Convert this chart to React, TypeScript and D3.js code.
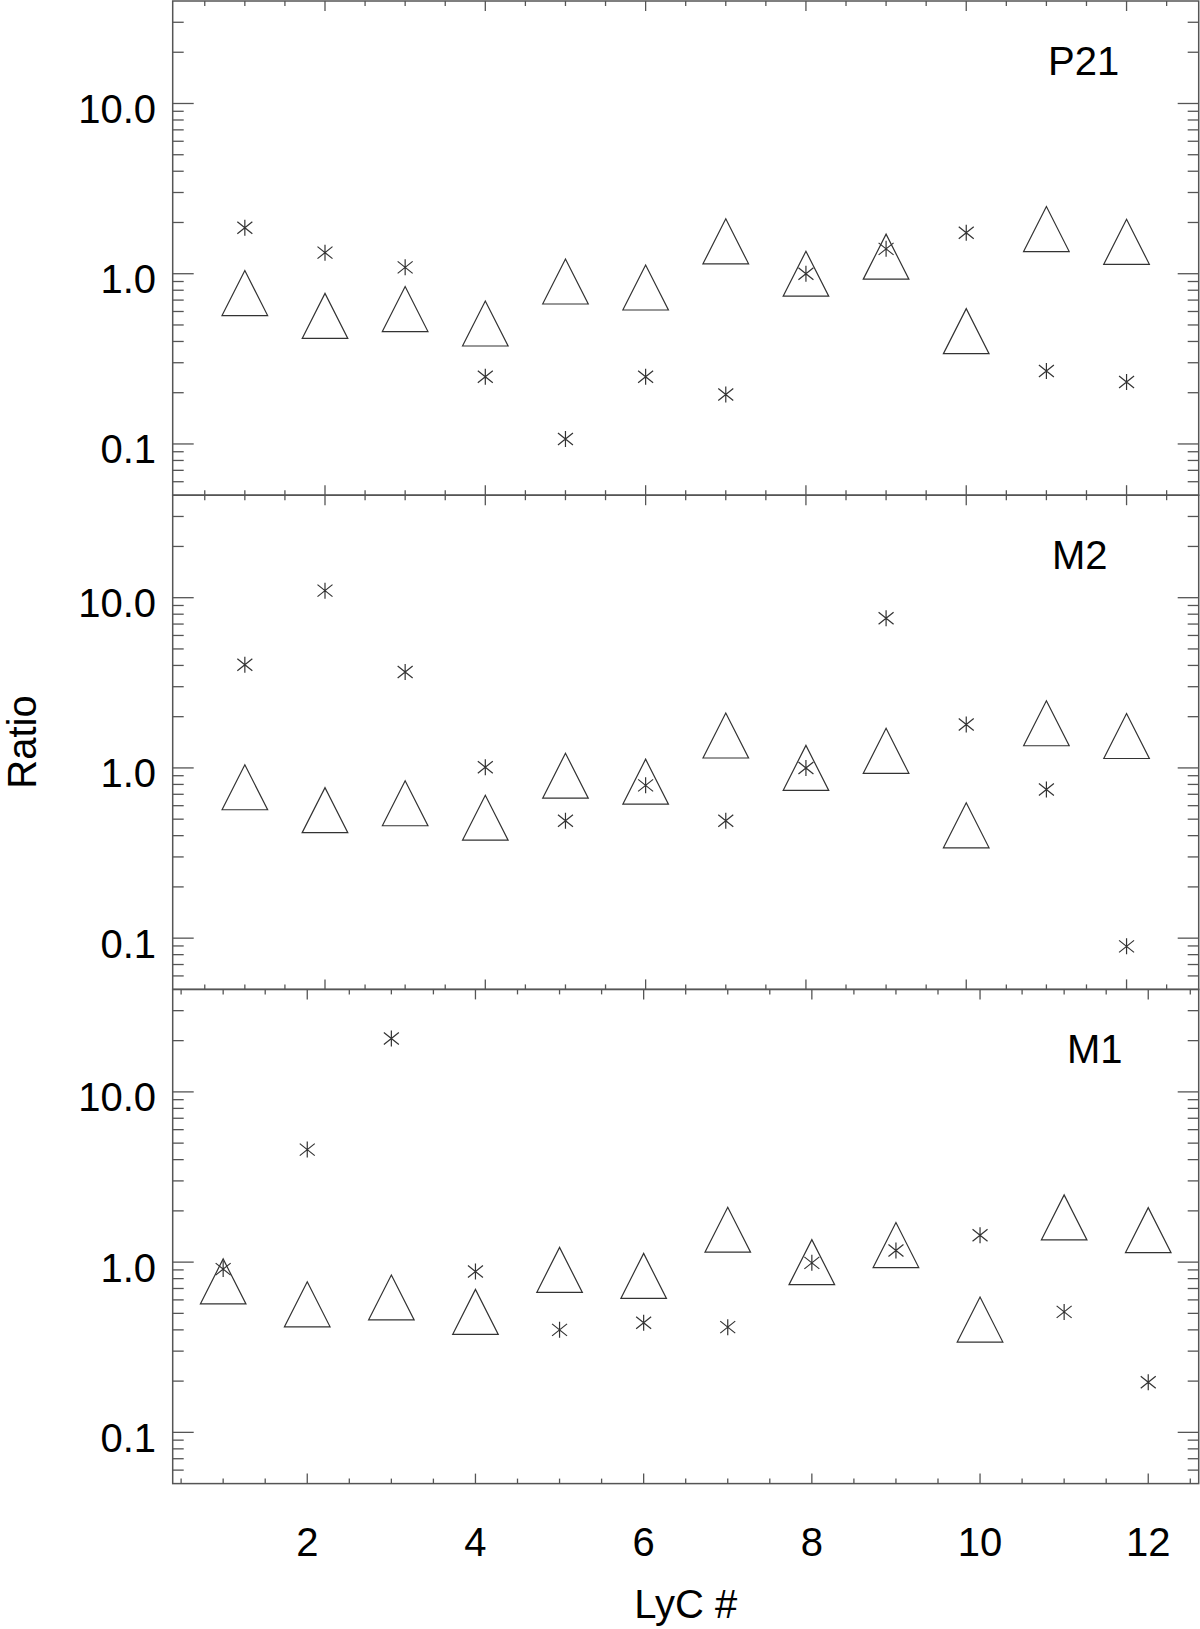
import { useEffect, useRef } from "react";
import * as d3 from "d3";

// LyC source numbers
const lycIds = [1, 2, 3, 4, 5, 6, 7, 8, 9, 10, 11, 12];

// observed ratio (triangles), same in every panel
const observedRatio = [0.77, 0.565, 0.62, 0.51, 0.9, 0.83, 1.55, 1.0, 1.26, 0.46, 1.83, 1.54];

// model ratios (asterisks)
const p21Ratio = [1.86, 1.33, 1.09, 0.248, 0.107, 0.248, 0.195, 1.0, 1.4, 1.74, 0.268, 0.231];
const m2Ratio = [4.04, 11.0, 3.66, 1.01, 0.49, 0.79, 0.49, 1.0, 7.57, 1.8, 0.746, 0.0895];
const m1Ratio = [0.91, 4.58, 20.6, 0.88, 0.4, 0.44, 0.415, 0.99, 1.17, 1.44, 0.51, 0.197];

const panelNames = ["P21", "M2", "M1"];
const yTickLabels = [0.1, 1, 10];
const xTickLabels = [2, 4, 6, 8, 10, 12];

const W = 1200;
const H = 1629;
const FONT = "'Liberation Sans', Arial, Helvetica, sans-serif";
const AXIS = "#555";
const MARK = "#333";

export default function App() {
    const svgRef = useRef<SVGSVGElement | null>(null);

    useEffect(() => {
        const svg = d3.select(svgRef.current);
        svg.selectAll("*").remove();

        const left = 172.7;
        const right = 1198.7;
        const top0 = 1;
        const ph = 494.2;

        // the two upper panels use a slightly different x range than the bottom one
        const xTop = d3.scaleLinear().domain([0.1, 12.9]).range([left, right]);
        const xBot = d3.scaleLinear().domain([0.4, 12.6]).range([left, right]);

        const series = [p21Ratio, m2Ratio, m1Ratio];
        const labelX = [1048, 1052, 1067];
        const xMinor = d3.range(0.5, 13, 0.5);

        series.forEach((vals, i) => {
            const top = top0 + i * ph;
            const bottom = top + ph;
            const x = i < 2 ? xTop : xBot;
            const y = d3.scaleLog().domain([0.05, 40]).range([bottom, top]);
            const g = svg.append("g");

            g.append("rect")
                .attr("x", left).attr("y", top)
                .attr("width", right - left).attr("height", ph)
                .attr("fill", "none").attr("stroke", AXIS).attr("stroke-width", 1.5);

            // y ticks left & right
            const yt = y.ticks().filter(v => v > 0.05 && v < 40);
            yt.forEach(v => {
                const major = Math.abs(Math.log10(v) - Math.round(Math.log10(v))) < 1e-6;
                const len = major ? 21 : 11;
                const yy = y(v);
                g.append("line").attr("x1", left).attr("x2", left + len).attr("y1", yy).attr("y2", yy)
                    .attr("stroke", AXIS).attr("stroke-width", 1.3);
                g.append("line").attr("x1", right).attr("x2", right - len).attr("y1", yy).attr("y2", yy)
                    .attr("stroke", AXIS).attr("stroke-width", 1.3);
            });

            yTickLabels.forEach(v => {
                g.append("text")
                    .attr("x", 156).attr("y", y(v) + 19.5)
                    .attr("text-anchor", "end")
                    .attr("font-family", FONT).attr("font-size", 40)
                    .text(d3.format(".1f")(v));
            });

            // x ticks top & bottom
            xMinor.filter(v => v > x.domain()[0] && v < x.domain()[1]).forEach(v => {
                const len = v % 2 === 0 ? 10 : 5;
                const xx = x(v);
                g.append("line").attr("x1", xx).attr("x2", xx).attr("y1", top).attr("y2", top + len)
                    .attr("stroke", AXIS).attr("stroke-width", 1.3);
                g.append("line").attr("x1", xx).attr("x2", xx).attr("y1", bottom).attr("y2", bottom - len)
                    .attr("stroke", AXIS).attr("stroke-width", 1.3);
            });

            // triangles
            g.selectAll(".tri")
                .data(lycIds.map((id, k) => [id, observedRatio[k]]))
                .enter()
                .append("path")
                .attr("d", d => {
                    const cx = x(d[0]);
                    const cy = y(d[1]);
                    return `M${cx - 22.8},${cy + 22.5}L${cx},${cy - 22.5}L${cx + 22.8},${cy + 22.5}Z`;
                })
                .attr("fill", "none").attr("stroke", MARK).attr("stroke-width", 1.2);

            // asterisks
            g.selectAll(".ast")
                .data(lycIds.map((id, k) => [id, vals[k]]))
                .enter()
                .append("path")
                .attr("d", d => {
                    const cx = x(d[0]);
                    const cy = y(d[1]);
                    return `M${cx},${cy - 8}L${cx},${cy + 8}` +
                        `M${cx - 7.5},${cy - 6}L${cx + 7.5},${cy + 6}` +
                        `M${cx - 7.5},${cy + 6}L${cx + 7.5},${cy - 6}`;
                })
                .attr("fill", "none").attr("stroke", MARK).attr("stroke-width", 1.2);

            g.append("text")
                .attr("x", labelX[i]).attr("y", top + 74)
                .attr("font-family", FONT).attr("font-size", 40)
                .text(panelNames[i]);

            if (i === 2) {
                xTickLabels.forEach(v => {
                    g.append("text")
                        .attr("x", x(v)).attr("y", bottom + 72.7)
                        .attr("text-anchor", "middle")
                        .attr("font-family", FONT).attr("font-size", 40)
                        .text(v);
                });
            }
        });

        svg.append("text")
            .attr("transform", `translate(36,742) rotate(-90)`)
            .attr("text-anchor", "middle")
            .attr("font-family", FONT).attr("font-size", 40)
            .text("Ratio");

        svg.append("text")
            .attr("x", (left + right) / 2).attr("y", 1618)
            .attr("text-anchor", "middle")
            .attr("font-family", FONT).attr("font-size", 40)
            .text("LyC #");
    }, []);

    return (
        <div style={{ position: "absolute", left: 0, top: 0, background: "#fff" }}>
            <svg ref={svgRef} width={W} height={H}></svg>
        </div>
    );
}
